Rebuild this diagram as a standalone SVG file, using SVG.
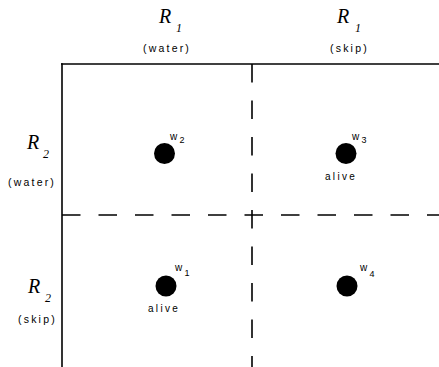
<svg xmlns="http://www.w3.org/2000/svg" width="439" height="367" viewBox="0 0 439 367">
<style>
.solid{stroke:#000;stroke-width:1.6;fill:none}
.dash{stroke:#000;stroke-width:1.6;fill:none;stroke-dasharray:18.5 18}
.R{font-family:"Liberation Serif",serif;font-style:italic;font-size:20px}
.sub{font-family:"Liberation Serif",serif;font-style:italic;font-size:12px}
.lab{font-family:"Liberation Sans",Arial,sans-serif;font-size:10.5px;letter-spacing:2.2px}
.w{font-family:"Liberation Sans",Arial,sans-serif;font-size:10px}
.ws{font-family:"Liberation Sans",Arial,sans-serif;font-size:9px}
.al{font-family:"Liberation Sans",Arial,sans-serif;font-size:10px;letter-spacing:2.3px}
.dot{fill:#000}
</style>
<rect width="439" height="367" fill="#fff"/>
<g id="connectors">
<line class="solid" x1="61" y1="64" x2="439" y2="64"/>
<line class="solid" x1="62" y1="63.2" x2="62" y2="367"/>
<line class="dash" x1="252" y1="64" x2="252" y2="367"/>
<line class="dash" x1="62" y1="215" x2="439" y2="215"/>
</g>
<g id="col1">
<text class="R" x="159" y="23">R</text><text class="sub" x="176" y="32">1</text>
<text class="lab" x="143" y="52">(water)</text>
</g>
<g id="col2">
<text class="R" x="337" y="23">R</text><text class="sub" x="355" y="32">1</text>
<text class="lab" x="330" y="52">(skip)</text>
</g>
<g id="row1">
<text class="R" x="27" y="149">R</text><text class="sub" x="43" y="158">2</text>
<text class="lab" x="8" y="186">(water)</text>
</g>
<g id="row2">
<text class="R" x="28" y="293">R</text><text class="sub" x="45" y="302">2</text>
<text class="lab" x="18" y="323">(skip)</text>
</g>
<g id="w2">
<circle class="dot" cx="164.5" cy="153.5" r="10.5"/>
<text class="w" x="170" y="140">w</text><text class="ws" x="179.5" y="143">2</text>
</g>
<g id="w3">
<circle class="dot" cx="346" cy="153.5" r="10.5"/>
<text class="w" x="352" y="140">w</text><text class="ws" x="361.5" y="143">3</text>
<text class="al" x="325" y="180">alive</text>
</g>
<g id="w1">
<circle class="dot" cx="166" cy="286" r="10.5"/>
<text class="w" x="175" y="271">w</text><text class="ws" x="184.5" y="276">1</text>
<text class="al" x="148" y="312">alive</text>
</g>
<g id="w4">
<circle class="dot" cx="347" cy="286" r="10.5"/>
<text class="w" x="360" y="271">w</text><text class="ws" x="369.5" y="277">4</text>
</g>
</svg>
